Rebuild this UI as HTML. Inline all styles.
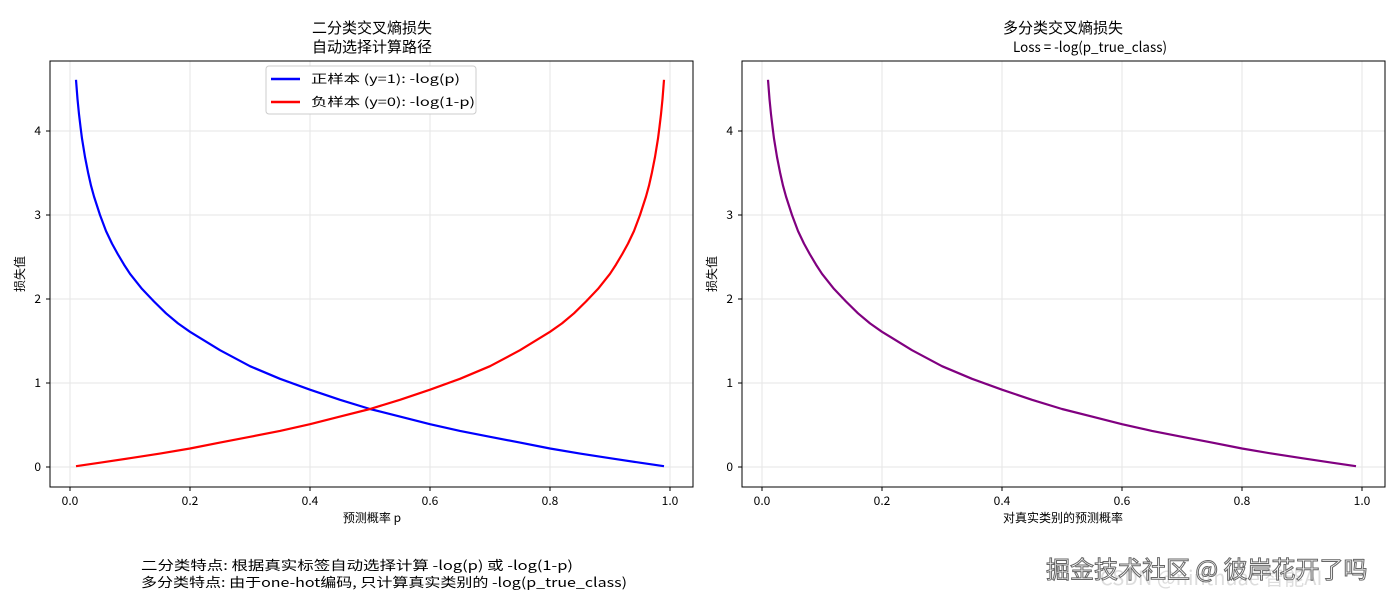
<!DOCTYPE html>
<html><head><meta charset="utf-8">
<style>
body{margin:0;background:#fff;}
svg text{font-family:"WenQuanYi Zen Hei","Noto Sans CJK SC",sans-serif;fill:#000;}
</style></head>
<body>
<svg id="fig" width="1400" height="600" viewBox="0 0 1400 600" xmlns="http://www.w3.org/2000/svg">
<rect width="1400" height="600" fill="#fff"/>
<text x="372" y="33" font-size="15" text-anchor="middle">二分类交叉熵损失</text>
<text x="372" y="52" font-size="15" text-anchor="middle">自动选择计算路径</text>
<text x="1063" y="33" font-size="15" text-anchor="middle">多分类交叉熵损失</text>
<text x="1013" y="52" font-size="14" textLength="154" lengthAdjust="spacingAndGlyphs">Loss = -log(p_true_class)</text>
<g id="left"></g>
<g id="right"></g>
<text x="372" y="522" font-size="12" text-anchor="middle">预测概率 p</text>
<text x="1063" y="522" font-size="12" text-anchor="middle">对真实类别的预测概率</text>
<text transform="translate(24,274) rotate(-90)" font-size="12" text-anchor="middle">损失值</text>
<text transform="translate(716,274) rotate(-90)" font-size="12" text-anchor="middle">损失值</text>
<g>
<rect x="266" y="66" width="210" height="48" rx="3" fill="#fff" stroke="#ccc"/>
<line x1="271" y1="79" x2="300" y2="79" stroke="#0000ff" stroke-width="2.5"/>
<text x="311" y="83" font-size="12" textLength="149" lengthAdjust="spacingAndGlyphs">正样本 (y=1): -log(p)</text>
<line x1="271" y1="102" x2="300" y2="102" stroke="#ff0000" stroke-width="2.5"/>
<text x="311" y="106" font-size="12" textLength="164" lengthAdjust="spacingAndGlyphs">负样本 (y=0): -log(1-p)</text>
</g>
<text x="141" y="570" font-size="13" textLength="432" lengthAdjust="spacingAndGlyphs">二分类特点: 根据真实标签自动选择计算 -log(p) 或 -log(1-p)</text>
<text x="141" y="587" font-size="13" textLength="486" lengthAdjust="spacingAndGlyphs">多分类特点: 由于one-hot编码, 只计算真实类别的 -log(p_true_class)</text>
<text x="1100" y="585" font-size="20" style="fill:#ddd">CSDN @ninthuae 智能AI</text>
<text x="1046" y="578" font-size="24" style="fill:#fff;stroke:#666;stroke-width:1">掘金技术社区 @ 彼岸花开了吗</text>
</svg>
<script>
const pVals=[0.01,0.0125,0.015,0.0175,0.02,0.025,0.03,0.035,0.04,0.05,0.06,0.07,0.08,0.09,0.1,0.12,0.14,0.16,0.18,0.2,0.25,0.3,0.35,0.4,0.45,0.5,0.55,0.6,0.65,0.7,0.75,0.8,0.85,0.9,0.95,0.99];
const posLoss=[4.61,4.38,4.20,4.05,3.91,3.69,3.51,3.35,3.22,3.00,2.81,2.66,2.53,2.41,2.30,2.12,1.97,1.83,1.71,1.61,1.39,1.20,1.05,0.92,0.80,0.69,0.60,0.51,0.43,0.36,0.29,0.22,0.16,0.105,0.051,0.01];
const negP=[0.01,0.05,0.1,0.15,0.2,0.25,0.3,0.35,0.4,0.45,0.5,0.55,0.6,0.65,0.7,0.75,0.8,0.82,0.84,0.86,0.88,0.9,0.91,0.92,0.93,0.94,0.95,0.96,0.965,0.97,0.975,0.98,0.9825,0.985,0.9875,0.99];
const negLoss=[0.01,0.051,0.105,0.16,0.22,0.29,0.36,0.43,0.51,0.60,0.69,0.80,0.92,1.05,1.20,1.39,1.61,1.71,1.83,1.97,2.12,2.30,2.41,2.53,2.66,2.81,3.00,3.22,3.35,3.51,3.69,3.91,4.05,4.20,4.38,4.61];
const multiLoss=posLoss;
const xTicks=["0.0","0.2","0.4","0.6","0.8","1.0"];
const yTicks=[0,1,2,3,4];
const NS="http://www.w3.org/2000/svg";
function mk(tag,attrs,parent){const e=document.createElementNS(NS,tag);for(const k in attrs)e.setAttribute(k,attrs[k]);parent.appendChild(e);return e;}
function plot(g,L,R,series,prefix){
  const T=61,B=487,x0=L+20,x1=R-23;
  const sx=v=>x0+(x1-x0)*v, sy=v=>467-84*v;
  xTicks.forEach((t,i)=>{const v=parseFloat(t),X=sx(v);
    const gl=mk('line',{x1:X,x2:X,y1:T,y2:B,stroke:'#e6e6e6','stroke-width':1},g);
    
    
    const tk=mk('line',{x1:X,x2:X,y1:B,y2:B+4,stroke:'#000'},g);
    
    
    const tx=mk('text',{x:X,y:B+18,'font-size':12,'text-anchor':'middle'},g);tx.textContent=t;
    
    
  });
  yTicks.forEach(v=>{const Y=sy(v);
    const gl=mk('line',{x1:L,x2:R,y1:Y,y2:Y,stroke:'#e6e6e6','stroke-width':1},g);
    
    
    const tk=mk('line',{x1:L-4,x2:L,y1:Y,y2:Y,stroke:'#000'},g);
    
    
    const tx=mk('text',{x:L-9,y:Y+4,'font-size':12,'text-anchor':'end'},g);tx.textContent=v;
    
    
  });
  series.forEach(s=>{
    const d=s.p.map((p,i)=>(i?'L':'M')+sx(p).toFixed(1)+','+sy(s.v[i]).toFixed(1)).join('');
    const pa=mk('path',{d:d,fill:'none',stroke:s.c,'stroke-width':2.2,'stroke-linejoin':'round'},g);
    
    
  });
  const fr=mk('rect',{x:L,y:T,width:R-L,height:B-T,fill:'none',stroke:'#000','stroke-width':1},g);
  
  
}
plot(document.getElementById('left'),50,693,[{p:pVals,v:posLoss,c:'#0000ff',n:'positive-loss-line'},{p:negP,v:negLoss,c:'#ff0000',n:'negative-loss-line'}],'left');
plot(document.getElementById('right'),742,1385,[{p:pVals,v:multiLoss,c:'#800080',n:'multiclass-loss-line'}],'right');
</script>
</body></html>
